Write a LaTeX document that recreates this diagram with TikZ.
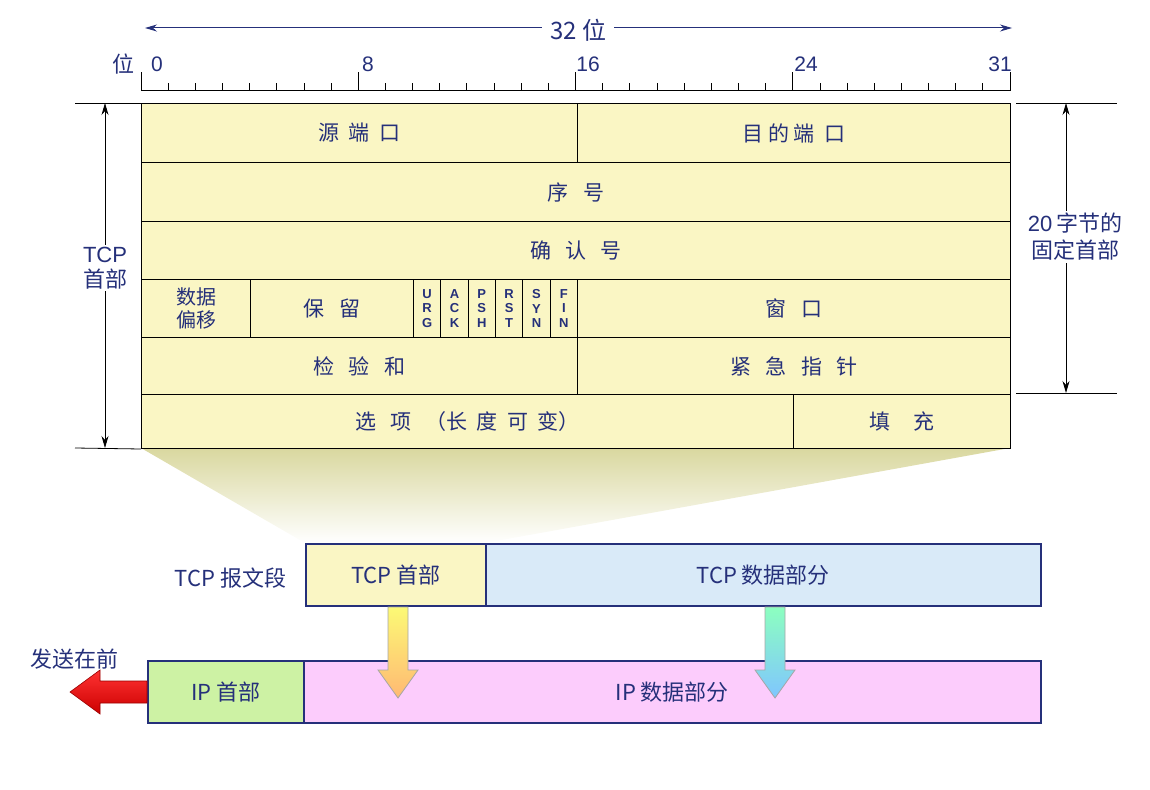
\documentclass[tikz,border=0pt]{standalone}
\usepackage{fontspec}
\setmainfont{Liberation Sans}
\newfontfamily\cjk{Noto Sans CJK SC}
\usetikzlibrary{arrows.meta}
\definecolor{navy}{HTML}{25307A}
\definecolor{pale}{HTML}{FAF6C4}
\definecolor{lblue}{HTML}{D9EAF8}
\definecolor{lgreen}{HTML}{CDF2A4}
\definecolor{lpink}{HTML}{FCCCFC}
\tikzset{
 field/.style={draw=black,line width=1pt,fill=pale,anchor=north west,inner sep=0pt,text=navy,font=\cjk\fontsize{21}{23}\selectfont},
 flag/.style={field,font=\bfseries\fontsize{13}{14.5}\selectfont,align=center},
 seg/.style={draw=navy,line width=1.5pt,anchor=north west,inner sep=0pt,text=navy,font=\cjk\fontsize{22}{24}\selectfont},
 lbl/.style={text=navy,font=\cjk\fontsize{22}{24}\selectfont,align=center},
 num/.style={text=navy,font=\fontsize{21}{23}\selectfont},
 dim/.style={line width=0.8pt},
}
\begin{document}
\begin{tikzpicture}[x=1pt,y=-1pt]
\useasboundingbox (0,0) rectangle (1150,789);
% top arrow
\coordinate (tl) at (145,28); \coordinate (tr) at (1012,28);
\draw[navy,line width=1pt,{Stealth[length=12pt,width=7pt]}-{Stealth[length=12pt,width=7pt]}] (tl) -- (tr);
\node[lbl,fill=white,inner xsep=8pt,font=\cjk\fontsize{24}{26}\selectfont] (w32) at (578,30) {32 位};
% ruler
\draw[line width=1pt] (141,91) -- (1010,91);
\foreach \i in {0,...,32}{\pgfmathsetmacro{\xx}{141+27.156*\i}\draw[line width=0.8pt] (\xx,91) -- (\xx,83);}
\foreach \i in {0,8,16,24,32}{\pgfmathsetmacro{\xx}{141+27.156*\i}\draw[line width=1pt] (\xx,91) -- (\xx,72);}
\node[lbl,anchor=east] (wei) at (138,64) {位};
\node[num] (n0) at (157,64) {0};
\node[num] (n8) at (368,64) {8};
\node[num] (n16) at (588,64) {16};
\node[num] (n24) at (806,64) {24};
\node[num] (n31) at (1000,64) {31};
% trapezoid shading
\shade[top color=pale!60!olive!70, bottom color=white] (141,448) -- (1010,448) -- (485,543) -- (305,543) -- cycle;
% header fields
\node[field,minimum width=436,minimum height=59] (src) at (141,103) {源\ \ 端\ \ 口};
\node[field,minimum width=433,minimum height=59] (dst) at (577,103) {目\ 的\ 端\ \ 口};
\node[field,minimum width=869,minimum height=59] (seq) at (141,162) {序\ \ \ 号};
\node[field,minimum width=869,minimum height=58] (ack) at (141,221) {确\ \ \ 认\ \ \ 号};
\node[field,minimum width=109,minimum height=58,align=center,font=\cjk\fontsize{20}{23}\selectfont] (off) at (141,279) {数据\\偏移};
\node[field,minimum width=163,minimum height=58] (res) at (250,279) {保\ \ \ 留};
\foreach \n/\t [count=\k from 0] in {urg/U\\R\\G,ackf/A\\C\\K,psh/P\\S\\H,rst/R\\S\\T,syn/S\\Y\\N,fin/F\\I\\N}{
  \node[flag,minimum width=27.33,minimum height=58] (\n) at (413+27.33*\k,279) {\t};}
\node[field,minimum width=433,minimum height=58] (win) at (577,279) {窗\ \ \ 口};
\node[field,minimum width=436,minimum height=57] (chk) at (141,337) {检\ \ \ 验\ \ \ 和};
\node[field,minimum width=433,minimum height=57] (urp) at (577,337) {紧\ \ \ 急\ \ \ 指\ \ \ 针};
\node[field,minimum width=652,minimum height=54] (opt) at (141,394) {选\ \ \ 项\ \ \ （长\ \ 度\ \ 可\ \ 变）};
\node[field,minimum width=217,minimum height=54] (pad) at (793,394) {填\ \ \ \ \ 充};
% left dimension
\coordinate (lt1) at (75,103); \coordinate (lb1) at (75,448);
\draw[line width=0.8pt] (lt1) -- (src.north west);
\draw[line width=0.8pt] (lb1) -- (opt.south west);
\coordinate (la) at (105,103); \coordinate (lb) at (105,448);
\draw[dim,{Stealth[length=12pt,width=7pt]}-{Stealth[length=12pt,width=7pt]}] (la) -- (lb);
\node[lbl,fill=white,inner sep=2pt,font=\fontsize{22}{25}\selectfont] (tcph) at (105,268) {TCP\\{\cjk 首部}};
% right dimension
\coordinate (rt1) at (1117,103); \coordinate (rb1) at (1117,393);
\draw[line width=0.8pt] (1016,103) coordinate (rt0) -- (rt1);
\draw[line width=0.8pt] (1016,393) coordinate (rb0) -- (rb1);
\coordinate (ra) at (1066,103); \coordinate (rb) at (1066,393);
\draw[dim,{Stealth[length=12pt,width=7pt]}-{Stealth[length=12pt,width=7pt]}] (ra) -- (rb);
\node[lbl,fill=white,inner sep=2pt,font=\fontsize{22}{27}\selectfont] (fix) at (1075,237) {20\,{\cjk 字节的}\\{\cjk 固定首部}};
% TCP segment
\node[lbl,anchor=east] (tseg) at (290,578) {TCP 报文段};
\node[seg,fill=pale,minimum width=180,minimum height=62] (th) at (305,543) {TCP 首部};
\node[seg,fill=lblue,minimum width=555,minimum height=62] (td) at (485,543) {TCP 数据部分};
% IP
\node[seg,fill=lgreen,minimum width=156,minimum height=62] (ih) at (147,660) {IP 首部};
\node[seg,fill=lpink,minimum width=737,minimum height=62] (id) at (303,660) {IP 数据部分};
\node[lbl,anchor=south west,inner sep=0pt] (send) at (30,670) {发送在前};
% vertical arrows
\shade[top color=yellow!40!pale, bottom color=orange!55, draw=gray!70, line width=0.8pt]
 (388,607) -- (408,607) -- (408,670) -- (418,670) -- (398,698) -- (378,670) -- (388,670) -- cycle;
\shade[top color=green!55!cyan!45, bottom color=cyan!55!blue!50, draw=gray!70, line width=0.8pt]
 (765,607) -- (785,607) -- (785,670) -- (795,670) -- (775,698) -- (755,670) -- (765,670) -- cycle;
% red arrow
\shade[top color=red!80!white, bottom color=red!80!black, draw=red!60!black, line width=0.6pt]
 (147,681) -- (100,681) -- (100,670) -- (70,692) -- (100,714) -- (100,703) -- (147,703) -- cycle;
\end{tikzpicture}
\end{document}
